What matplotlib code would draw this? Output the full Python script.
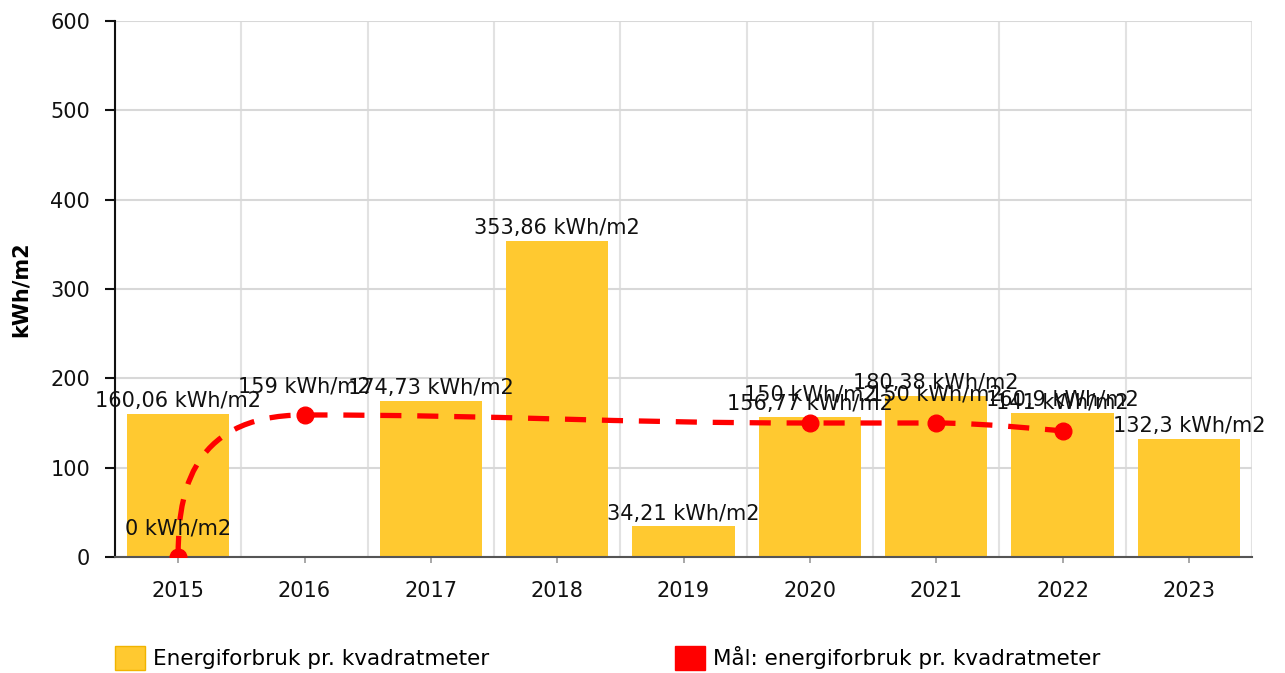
import numpy as np
import matplotlib
matplotlib.use("Agg")
import matplotlib.pyplot as plt
from matplotlib.path import Path
from matplotlib.patches import PathPatch, Patch

years = ["2015", "2016", "2017", "2018", "2019", "2020", "2021", "2022", "2023"]
usage = [160.06, None, 174.73, 353.86, 34.21, 156.77, 180.38, 160.9, 132.3]
target_idx = [0, 1, 5, 6, 7]
target = [0, 159, 150, 150, 141]

BAR_COL = "#FFC930"
RED = "#FF0000"


def fmt(v):
    return f"{v:g}".replace(".", ",") + " kWh/m2"


def spline_path(xs, ys):
    # highcharts-like spline, smoothing 1.5
    sm = 1.5
    den = sm + 1
    n = len(xs)
    rc = [None] * n
    verts = [(xs[0], ys[0])]
    codes = [Path.MOVETO]
    for i in range(1, n):
        x, y = xs[i], ys[i]
        lcx, lcy = x, y
        if i < n - 1:
            lx, ly, nx, ny = xs[i - 1], ys[i - 1], xs[i + 1], ys[i + 1]
            lcx = (sm * x + lx) / den
            lcy = (sm * y + ly) / den
            rcx = (sm * x + nx) / den
            rcy = (sm * y + ny) / den
            corr = (rcy - lcy) * (rcx - x) / (rcx - lcx) + y - rcy
            lcy += corr
            rcy += corr
            if lcy > ly and lcy > y:
                lcy = max(ly, y)
                rcy = 2 * y - lcy
            elif lcy < ly and lcy < y:
                lcy = min(ly, y)
                rcy = 2 * y - lcy
            if rcy > ny and rcy > y:
                rcy = max(ny, y)
                lcy = 2 * y - rcy
            elif rcy < ny and rcy < y:
                rcy = min(ny, y)
                lcy = 2 * y - rcy
            rc[i] = (rcx, rcy)
        if i == 1:
            # first piece leaves the start point almost straight up
            x0, y0 = xs[0], ys[0]
            p = (x0, y0 + 0.38 * (y - y0))
            lcx, lcy = x0 + 0.05 * (x - x0), y
        else:
            p = rc[i - 1] if rc[i - 1] is not None else (xs[i - 1], ys[i - 1])
        verts += [p, (lcx, lcy), (x, y)]
        codes += [Path.CURVE4] * 3
    return Path(verts, codes)


fig = plt.figure(figsize=(12.85, 6.73), dpi=100)
ax = fig.add_axes([115 / 1285, 116 / 673, 1137 / 1285, 536 / 673])

x = np.arange(len(years))
for i, v in enumerate(usage):
    if v is None:
        continue
    ax.bar(i, v, width=0.81, color=BAR_COL, zorder=2)
    ax.annotate(fmt(v), (i, v), xytext=(0, 2), textcoords="offset points",
                ha="center", va="bottom", fontsize=15, color="#111111", zorder=6)

path = spline_path([float(i) for i in target_idx], [float(v) for v in target])
ax.add_patch(PathPatch(path, fill=False, edgecolor=RED, lw=3.8,
                       linestyle=(0, (4, 3)), capstyle="butt", zorder=4))
ax.plot(target_idx, target, linestyle="none", marker="o", markersize=12,
        color=RED, zorder=5)
for i, v in zip(target_idx, target):
    ax.annotate(fmt(v), (i, v), xytext=(0, 13), textcoords="offset points",
                ha="center", va="bottom", fontsize=15, color="#111111", zorder=6)

ax.set_xlim(-0.5, len(years) - 0.5)
ax.set_ylim(0, 600)
ax.set_yticks(range(0, 601, 100))
ax.set_xticks(x)
ax.set_xticklabels(years)
ax.set_xticks(np.arange(-0.5, len(years), 1), minor=True)

ax.grid(axis="y", which="major", color="#d8d8d8", lw=1.5, zorder=0)
ax.grid(axis="x", which="minor", color="#e2e2e2", lw=1.5, zorder=0)
ax.set_axisbelow(True)

for s in ["top", "right"]:
    ax.spines[s].set_visible(False)
ax.spines["left"].set_color("#111111")
ax.spines["left"].set_linewidth(1.5)
ax.spines["bottom"].set_color("#555555")
ax.spines["bottom"].set_linewidth(1.5)

ax.tick_params(axis="y", length=7, width=1.5, pad=11, labelsize=15, colors="#111111")
ax.tick_params(axis="x", which="major", length=4, width=1.2, color="#999999",
               pad=13, labelsize=15, labelcolor="#111111")
ax.tick_params(axis="x", which="minor", length=0)

ax.set_ylabel("kWh/m2", fontsize=15, fontweight="bold")
ax.yaxis.set_label_coords(-0.074, 0.5)

handles = [Patch(facecolor=BAR_COL, edgecolor="#F0B400", lw=1),
           Patch(facecolor=RED, edgecolor=RED, lw=1)]
fig.legend(handles, ["Energiforbruk pr. kvadratmeter", "Mål: energiforbruk pr. kvadratmeter"],
           loc="center left", bbox_to_anchor=(115 / 1285, 1 - 658 / 673), ncol=2,
           frameon=False, fontsize=15.5, handlelength=1.4, handleheight=1.4,
           handletextpad=0.35, columnspacing=8.65, borderpad=0, borderaxespad=0)

fig.savefig("out.png", dpi=100)
